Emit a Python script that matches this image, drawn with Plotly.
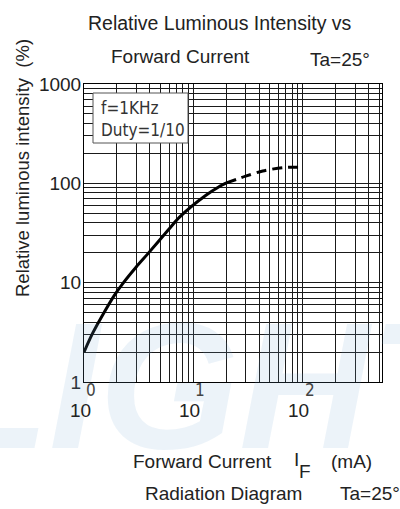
import math
import plotly.graph_objects as go

# ---- data ----
current_solid = [1.0, 1.2, 1.54, 1.9, 2.26, 3.0, 3.84, 5.85, 7.5, 13, 17, 20]
intensity_solid = [2.0, 3.1, 5.1, 7.5, 9.8, 14.4, 19.6, 33.7, 46, 76, 92, 101]
current_dash = [20, 25, 30, 43, 66, 100]
intensity_dash = [101, 110, 118, 133, 144, 145]

x_decades = [1, 10, 100]
y_decades = [1, 10, 100, 1000]
x_tick_base = ["10", "10", "10"]
x_tick_exp = ["0", "1", "2"]

W, H = 400, 509
L, R, T, B = 84, 18, 84, 127
PW, PH = W - L - R, H - T - B


def px(xp):
    return (xp - L) / PW


def py(yp):
    return (H - B - yp) / PH


x_grid = [d * m for d in x_decades for m in range(1, 10) if d * m <= 530]
y_grid = [d * m for d in y_decades for m in range(1, 10) if d * m <= 1000]
y_text = [str(v) if v in y_decades else "" for v in y_grid]

FONT = "Liberation Sans, Arial, sans-serif"
NARROW = "DejaVu Sans Condensed, DejaVu Sans, sans-serif"

fig = go.Figure()
fig.add_trace(go.Scatter(x=current_solid, y=intensity_solid, mode="lines",
                         line=dict(color="black", width=3, shape="spline", smoothing=0.8),
                         hoverinfo="skip", showlegend=False))
fig.add_trace(go.Scatter(x=current_dash, y=intensity_dash, mode="lines",
                         line=dict(color="black", width=3, dash="10px,6px", shape="spline", smoothing=0.8),
                         hoverinfo="skip", showlegend=False))

grid_col = "#1a1a1a"
fig.update_xaxes(type="log", range=[0, 2.723], tickvals=x_grid,
                 ticktext=[""] * len(x_grid), showgrid=True, gridcolor=grid_col,
                 gridwidth=1, zeroline=False, showline=True, linecolor="black",
                 linewidth=1, mirror=True, ticks="", fixedrange=True)
fig.update_yaxes(type="log", range=[0, 3], tickvals=y_grid, ticktext=y_text,
                 showgrid=True, gridcolor=grid_col, gridwidth=1, zeroline=False,
                 showline=True, linecolor="black", linewidth=1, mirror=True,
                 ticks="", ticklabelstandoff=-2,
                 tickfont=dict(family=FONT, size=19, color="#222"), fixedrange=True)

ann = []


def text(x, y, s, size=19, **kw):
    d = dict(x=px(x), y=py(y), xref="paper", yref="paper", text=s, showarrow=False,
             font=dict(family=kw.pop("family", FONT), size=size, color=kw.pop("color", "#222")),
             xanchor=kw.pop("xanchor", "center"), yanchor=kw.pop("yanchor", "middle"))
    d.update(kw)
    ann.append(d)


# watermark
ann.append(dict(x=px(215), y=py(385), xref="paper", yref="paper", text="<b><i>LIGHT</i></b>",
                showarrow=False, font=dict(family=FONT, size=180, color="rgba(120,170,215,0.14)"),
                xanchor="center", yanchor="middle"))

text(220, 23, "Relative Luminous Intensity vs", size=19.5)
text(180, 57, "Forward Current")
text(340, 60, "Ta=25°")
text(22, 168, "Relative luminous intensity  (%)", size=18.5, textangle=-90)

# x tick labels placed through the x axis (log units)
for xv, b, e in zip(x_decades, x_tick_base, x_tick_exp):
    ann.append(dict(x=math.log10(xv), y=py(410), xref="x", yref="paper", text=b,
                    showarrow=False, xshift=-4,
                    font=dict(family=FONT, size=19, color="#222"),
                    xanchor="center", yanchor="middle"))
    ann.append(dict(x=math.log10(xv), y=py(390), xref="x", yref="paper", text=e,
                    showarrow=False, xshift=7,
                    font=dict(family=NARROW, size=17, color="#444"),
                    xanchor="center", yanchor="middle"))

text(202, 461, "Forward Current")
text(296, 459, "I")
text(305, 471, "F")
text(351, 461, "(mA)")
text(223, 494, "Radiation Diagram")
text(370, 494, "Ta=25°")

# f / duty box
text(99, 108, "f=1KHz", size=17, family=NARROW, xanchor="left", color="#333")
text(99, 130, "Duty=1/10", size=17, family=NARROW, xanchor="left", color="#333")

fig.add_shape(type="rect", xref="paper", yref="paper", x0=px(93), x1=px(188),
              y0=py(143), y1=py(93), line=dict(color="#555", width=1),
              fillcolor="white", layer="above")

fig.update_layout(width=W, height=H, margin=dict(l=L, r=R, t=T, b=B),
                  paper_bgcolor="white", plot_bgcolor="white",
                  annotations=ann, showlegend=False)

fig.write_html("out.html", config={"displayModeBar": False, "staticPlot": True})

# remove the default browser page margin so the figure sits at the window origin
with open("out.html", "r", encoding="utf-8") as f:
    html = f.read()
html = html.replace("<head>", "<head><style>html,body{margin:0;padding:0;overflow:hidden;}</style>", 1)
with open("out.html", "w", encoding="utf-8") as f:
    f.write(html)
